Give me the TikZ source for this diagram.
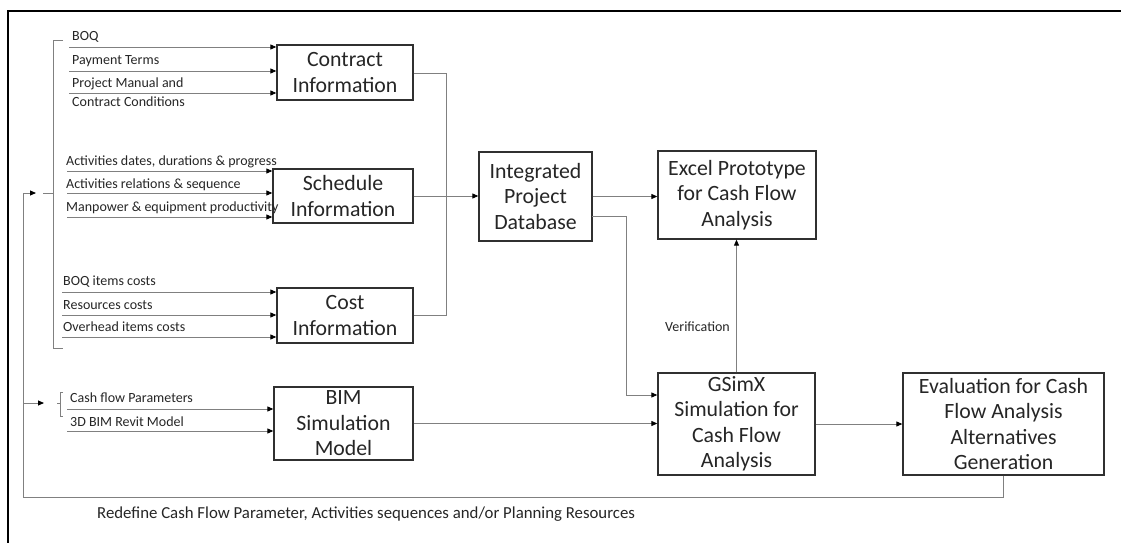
\documentclass[tikz,border=0pt]{standalone}
\usepackage{fontspec}
\setmainfont{Carlito}
\usetikzlibrary{arrows.meta}
\definecolor{linec}{HTML}{808080}
\definecolor{boxc}{HTML}{303030}
\definecolor{txtc}{HTML}{262626}
\newcommand{\boxfont}{\fontsize{21.8}{25.5}\selectfont}
\newcommand{\lblfont}{\fontsize{14}{18}\selectfont}
\tikzset{
  box/.style={draw=boxc, line width=1.3pt, align=center, font=\boxfont,
              text=txtc, inner sep=0pt},
  lbl/.style={font=\lblfont, text=txtc, inner sep=0pt, anchor=base west, align=left},
  conn/.style={draw=linec, line width=0.9pt},
  arr/.style={conn, -{Triangle[length=6pt,width=5pt,color=black]}},
}
\begin{document}
\begin{tikzpicture}[x=1pt,y=-1pt]
\useasboundingbox (0,0) rectangle (1121,543);
\fill[white] (0,0) rectangle (1121,543);

% outer frame (open to the right and bottom)
\draw[line width=2pt, black] (8,543) -- (8,11) -- (1121,11);

% process boxes
\node[box, minimum width=136pt, minimum height=55pt] (contract) at (345,72.5) {Contract\\Information};
\node[box, minimum width=140pt, minimum height=54pt] (schedule) at (343,196) {Schedule\\Information};
\node[box, minimum width=136pt, minimum height=55pt] (cost) at (345,315.5) {Cost\\Information};
\node[box, minimum width=139pt, minimum height=73pt] (bim) at (343.5,423.5) {BIM\\Simulation\\Model};
\node[box, minimum width=113pt, minimum height=89pt] (db) at (535.5,196.5) {Integrated\\Project\\Database};
\node[box, minimum width=158pt, minimum height=88pt] (excel) at (737,195) {Excel Prototype\\for Cash Flow\\Analysis};
\node[box, minimum width=157pt, minimum height=102pt] (gsim) at (736.5,424) {GSimX\\Simulation for\\Cash Flow\\Analysis};
\node[box, minimum width=201pt, minimum height=102pt] (eval) at (1003.5,424) {Evaluation for Cash\\Flow Analysis\\Alternatives\\Generation};

% contract inputs
\coordinate (ci1) at (69,47);
\coordinate (ci2) at (69,71);
\coordinate (ci3) at (69,93);
\node[lbl] (lboq) at (72,41) {BOQ};
\node[lbl] (lpay) at (72,65) {Payment Terms};
\node[lbl] (lman) at (72,106) {Project Manual and\\Contract Conditions};
\foreach \c in {ci1,ci2,ci3} \draw[arr] (\c) -- (\c -| contract.west);

% schedule inputs
\coordinate (si1) at (67,171);
\coordinate (si2) at (67,193);
\coordinate (si3) at (67,217);
\node[lbl] (ldat) at (66,165) {Activities dates, durations \& progress};
\node[lbl] (lrel) at (66,188) {Activities relations \& sequence};
\node[lbl] (lman2) at (66,211) {Manpower \& equipment productivity};
\foreach \c in {si1,si2,si3} \draw[arr] (\c) -- (\c -| schedule.west);

% cost inputs
\coordinate (ki1) at (62,292);
\coordinate (ki2) at (62,315);
\coordinate (ki3) at (62,337);
\node[lbl] (lbqc) at (63,285) {BOQ items costs};
\node[lbl] (lres) at (63,309) {Resources costs};
\node[lbl] (lovh) at (63,331) {Overhead items costs};
\foreach \c in {ki1,ki2,ki3} \draw[arr] (\c) -- (\c -| cost.west);

% BIM inputs
\coordinate (bi1) at (67,409);
\coordinate (bi2) at (67,431);
\node[lbl] (lcfp) at (70,402) {Cash flow Parameters};
\node[lbl] (lrvt) at (70,426) {3D BIM Revit Model};
\foreach \c in {bi1,bi2} \draw[arr] (\c) -- (\c -| bim.west);

% grouping brackets
\draw[conn] (63,40) -- (53,40) -- (53,348) -- (63,348);
\draw[conn] (53,193) -- (43,193);
\draw[conn] (63,392) -- (60,392) -- (60,416) -- (63,416);
\draw[conn] (60,403) -- (57,403);

% contract, schedule and cost into the database
\coordinate (mx) at (446,0);
\draw[conn] (contract.east |- 0,73) -- (mx |- 0,73) -- (mx |- cost.east) -- (cost.east);
\draw[arr] (schedule.east) -- (schedule.east -| db.west);

% database outputs
\draw[arr] (db.east) -- (db.east -| excel.west);
\coordinate (dbo) at (592,216);
\coordinate (dbx) at (626,216);
\coordinate (gin) at (626,395);
\draw[arr] (dbo) -- (dbx) -- (gin) -- (gin -| gsim.west);

% BIM model into simulation
\draw[arr] (bim.east) -- (bim.east -| gsim.west);

% verification against the spreadsheet prototype
\draw[arr] (gsim.north) -- (gsim.north |- excel.south);
\node[font=\lblfont, text=txtc, inner sep=0pt, anchor=east] (lver) at (730,327) {Verification};

% simulation to evaluation
\draw[arr] (gsim.east) -- (eval.west);

% feedback loop
\coordinate (fbr) at (1003.5,497);
\coordinate (fbl) at (23,497);
\coordinate (fbt) at (23,193);
\coordinate (fbm) at (23,403);
\coordinate (fba) at (36,193);
\coordinate (fbb) at (44,403);
\draw[arr] (eval.south) -- (fbr) -- (fbl) -- (fbt) -- (fba);
\draw[arr] (fbm) -- (fbb);
\node[font=\fontsize{16.8}{20}\selectfont, text=txtc, inner sep=0pt, anchor=west] (lfb) at (97,514)
  {Redefine Cash Flow Parameter, Activities sequences and/or Planning Resources};
\end{tikzpicture}
\end{document}
